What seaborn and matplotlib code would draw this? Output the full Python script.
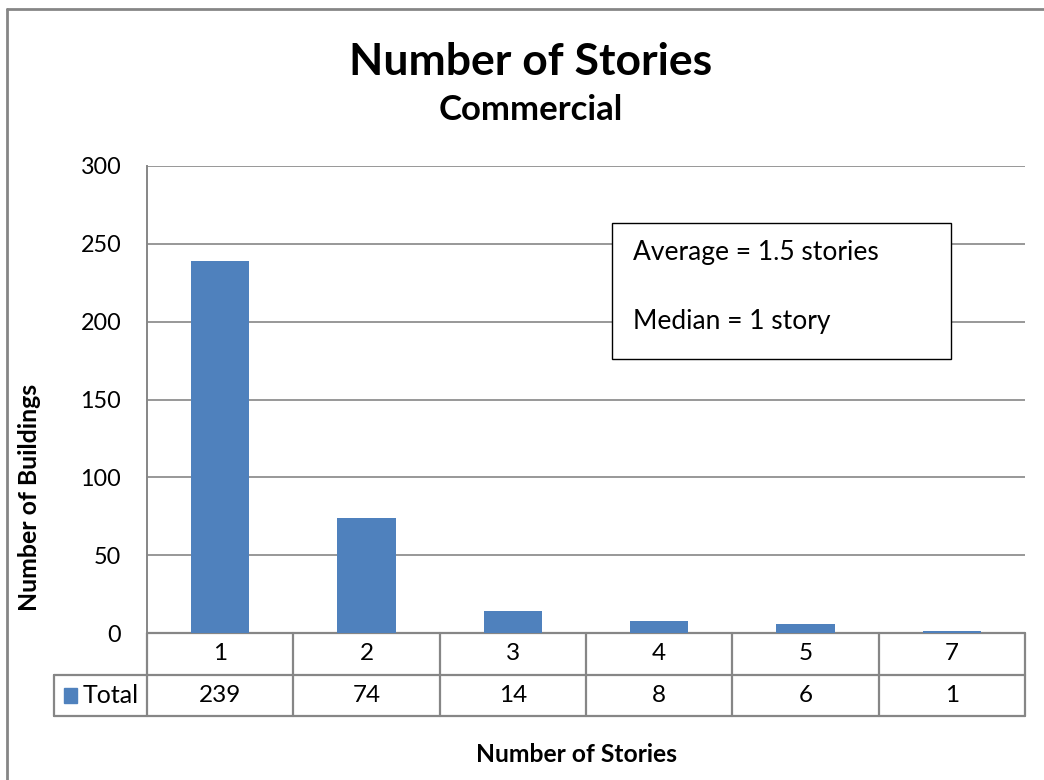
import matplotlib
matplotlib.use("Agg")
import matplotlib.pyplot as plt
from matplotlib.lines import Line2D
from matplotlib.patches import Rectangle
import seaborn as sns

# Data
stories = ["1", "2", "3", "4", "5", "7"]
buildings = [239, 74, 14, 8, 6, 1]
series_name = "Total"
y_ticks = [0, 50, 100, 150, 200, 250, 300]
notes = ["Average = 1.5 stories", "Median = 1 story"]

BAR = "#4F81BD"
GRID = "#868686"
FONT = "Lato"

sns.set_theme(style="white")
plt.rcParams["font.family"] = [FONT, "DejaVu Sans"]
plt.rcParams["text.color"] = "black"
plt.rcParams["ytick.color"] = "black"

W, H = 1044, 780
fig = plt.figure(figsize=(W / 100, H / 100), dpi=100)

# plot area in pixel terms
x0, x1 = 147, 1025
y_top, y_bot = 166, 633
ax = fig.add_axes([x0 / W, (H - y_bot) / H, (x1 - x0) / W, (y_bot - y_top) / H])

sns.barplot(x=stories, y=buildings, color=BAR, width=0.4, saturation=1,
            linewidth=0, ax=ax, zorder=3)
ax.set_ylim(0, 300)
ax.set_xlim(-0.5, len(stories) - 0.5)
ax.set_yticks(y_ticks)
ax.set_yticklabels([str(t) for t in y_ticks], fontsize=16.8, color="black")
ax.tick_params(axis="y", length=0, pad=18.5)
ax.set_xticks([])
ax.set_xlabel("")
ax.set_ylabel("")
for t in y_ticks[1:]:
    ax.axhline(t, color=GRID, lw=1.2, zorder=1)
for side in ["top", "right", "bottom"]:
    ax.spines[side].set_visible(False)
ax.spines["left"].set_color(GRID)
ax.spines["left"].set_linewidth(1.4)

# data table below the axis
ax_h = y_bot - y_top
row_h = 41.5 / ax_h
tr = ax.get_xaxis_transform()
kw = dict(color=GRID, lw=1.6, transform=tr, clip_on=False, zorder=2)
n = len(stories)
# horizontal lines
ax.add_line(Line2D([-0.5, n - 0.5], [0, 0], **kw))
ax.add_line(Line2D([-0.5 - 0.637, n - 0.5], [-row_h, -row_h], **kw))
ax.add_line(Line2D([-0.5 - 0.637, n - 0.5], [-2 * row_h, -2 * row_h], **kw))
# vertical lines
for i in range(n + 1):
    ax.add_line(Line2D([i - 0.5, i - 0.5], [0, -2 * row_h], **kw))
ax.add_line(Line2D([-0.5 - 0.637, -0.5 - 0.637], [-row_h, -2 * row_h], **kw))

for i, (s, v) in enumerate(zip(stories, buildings)):
    ax.text(i, -0.5 * row_h, s, transform=tr, ha="center", va="center",
            fontsize=17.5, color="black")
    ax.text(i, -1.5 * row_h, str(v), transform=tr, ha="center", va="center",
            fontsize=17.5, color="black")

# legend key in the table
ax.add_patch(Rectangle((-0.5 - 0.57, -1.5 * row_h - 0.016), 0.095, 0.032,
                       transform=tr, clip_on=False, color=BAR, zorder=4))
ax.text(-0.5 - 0.055, -1.5 * row_h, series_name, transform=tr, ha="right",
        va="center", fontsize=18, color="black")

# statistics box
ax.add_patch(Rectangle((0.5296, 0.5867), 0.9157 - 0.5296, 0.878 - 0.5867,
                       transform=ax.transAxes, fc="white", ec="black",
                       lw=1, zorder=5))
ax.text(0.5535, 0.8158, notes[0], transform=ax.transAxes, ha="left",
        va="center", fontsize=19, color="black", zorder=6)
ax.text(0.5535, 0.666, notes[1], transform=ax.transAxes, ha="left",
        va="center", fontsize=19, color="black", zorder=6)

# titles and axis labels
fig.text(531 / W, 1 - 62 / H, "Number of Stories", ha="center", va="center",
         fontsize=32, fontweight="bold")
fig.text(531 / W, 1 - 110 / H, "Commercial", ha="center", va="center",
         fontsize=25, fontweight="bold")
fig.text(30 / W, 1 - 497 / H, "Number of Buildings", ha="center", va="center",
         rotation=90, fontsize=17.9, fontweight="bold")
fig.text(577 / W, 1 - 755 / H, "Number of Stories", ha="center", va="center",
         fontsize=17.7, fontweight="bold")

# chart area border (left and top edges)
fig.add_artist(Line2D([7 / W, 7 / W], [0, 1 - 9 / H], color=GRID, lw=2,
                      transform=fig.transFigure))
fig.add_artist(Line2D([7 / W, 1], [1 - 9 / H, 1 - 9 / H], color=GRID, lw=2,
                      transform=fig.transFigure))

fig.savefig("out.png", dpi=100)
